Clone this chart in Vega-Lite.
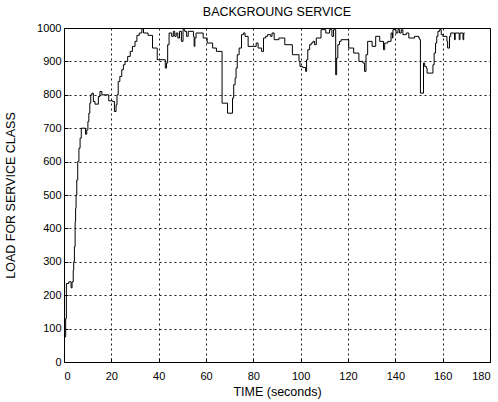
{
  "$schema": "https://vega.github.io/schema/vega-lite/v6.json",
  "width": 426,
  "height": 334,
  "autosize": {"type": "none"},
  "padding": {"left": 64, "top": 28, "right": 8, "bottom": 40},
  "background": "white",
  "title": {"text": "BACKGROUNG SERVICE", "fontSize": 12.5, "fontWeight": "normal", "font": "Liberation Sans", "color": "#000", "offset": 4},
  "config": {
    "view": {"stroke": "#000", "strokeWidth": 1},
    "axis": {
      "labelFont": "Liberation Sans", "labelFontSize": 11, "labelColor": "#000",
      "titleFont": "Liberation Sans", "titleFontSize": 12.5, "titleFontWeight": "normal", "titleColor": "#000",
      "grid": true, "gridColor": "#000", "gridOpacity": 0.9, "gridDash": [2, 3], "gridWidth": 1,
      "domain": false, "tickColor": "#000", "tickSize": -4, "format": "d"
    }
  },
  "data": {"values": [
    {"t": 0.2, "v": 75}, {"t": 0.7, "v": 130}, {"t": 1.0, "v": 235}, {"t": 2.0, "v": 240},
    {"t": 3.0, "v": 222}, {"t": 3.4, "v": 240}, {"t": 3.9, "v": 275}, {"t": 4.1, "v": 300},
    {"t": 4.4, "v": 345}, {"t": 4.7, "v": 420}, {"t": 4.9, "v": 460}, {"t": 5.1, "v": 500},
    {"t": 5.4, "v": 545}, {"t": 5.8, "v": 600}, {"t": 6.3, "v": 640}, {"t": 6.8, "v": 670},
    {"t": 7.3, "v": 700}, {"t": 9.1, "v": 682}, {"t": 9.6, "v": 695}, {"t": 10.1, "v": 720},
    {"t": 10.5, "v": 745}, {"t": 10.9, "v": 775}, {"t": 11.3, "v": 800}, {"t": 11.8, "v": 805},
    {"t": 12.4, "v": 780}, {"t": 13.1, "v": 772}, {"t": 14.5, "v": 795}, {"t": 15.2, "v": 810},
    {"t": 16.0, "v": 800}, {"t": 18.9, "v": 782}, {"t": 20.6, "v": 780}, {"t": 21.3, "v": 750},
    {"t": 22.0, "v": 770}, {"t": 22.4, "v": 800}, {"t": 22.9, "v": 840}, {"t": 23.6, "v": 855},
    {"t": 24.4, "v": 875}, {"t": 25.1, "v": 890}, {"t": 25.8, "v": 900}, {"t": 26.9, "v": 915},
    {"t": 28.0, "v": 930}, {"t": 28.9, "v": 945}, {"t": 30.0, "v": 960}, {"t": 30.8, "v": 978},
    {"t": 31.8, "v": 985}, {"t": 32.9, "v": 998}, {"t": 33.6, "v": 985}, {"t": 35.5, "v": 978},
    {"t": 37.4, "v": 940}, {"t": 39.4, "v": 905}, {"t": 42.8, "v": 880}, {"t": 43.3, "v": 895},
    {"t": 43.8, "v": 950}, {"t": 44.4, "v": 985}, {"t": 45.5, "v": 975}, {"t": 46.2, "v": 990},
    {"t": 46.8, "v": 975}, {"t": 47.4, "v": 985}, {"t": 48.1, "v": 970}, {"t": 48.8, "v": 990},
    {"t": 49.6, "v": 960}, {"t": 50.3, "v": 995}, {"t": 51.0, "v": 990}, {"t": 51.8, "v": 975},
    {"t": 52.5, "v": 990}, {"t": 54.7, "v": 975}, {"t": 55.0, "v": 945}, {"t": 55.3, "v": 970},
    {"t": 55.8, "v": 985}, {"t": 58.8, "v": 970}, {"t": 60.5, "v": 955}, {"t": 62.8, "v": 940},
    {"t": 64.4, "v": 930}, {"t": 66.8, "v": 775}, {"t": 69.1, "v": 745}, {"t": 71.2, "v": 790},
    {"t": 71.7, "v": 830}, {"t": 72.3, "v": 850}, {"t": 72.7, "v": 880}, {"t": 73.2, "v": 920},
    {"t": 74.0, "v": 940}, {"t": 75.0, "v": 980}, {"t": 75.8, "v": 985}, {"t": 76.5, "v": 975},
    {"t": 77.8, "v": 945}, {"t": 81.2, "v": 955}, {"t": 82.0, "v": 940}, {"t": 83.5, "v": 930},
    {"t": 84.3, "v": 970}, {"t": 85.2, "v": 975}, {"t": 86.0, "v": 980}, {"t": 87.3, "v": 975},
    {"t": 87.9, "v": 985}, {"t": 88.8, "v": 965}, {"t": 90.8, "v": 970}, {"t": 93.3, "v": 950},
    {"t": 96.5, "v": 920}, {"t": 99.3, "v": 900}, {"t": 99.7, "v": 885}, {"t": 100.8, "v": 882},
    {"t": 102.1, "v": 870}, {"t": 102.5, "v": 905}, {"t": 103.0, "v": 935}, {"t": 103.8, "v": 950},
    {"t": 104.5, "v": 955}, {"t": 105.2, "v": 960}, {"t": 105.9, "v": 950}, {"t": 106.6, "v": 970},
    {"t": 108.6, "v": 995}, {"t": 110.6, "v": 985}, {"t": 112.2, "v": 995}, {"t": 113.2, "v": 975},
    {"t": 113.9, "v": 995}, {"t": 114.8, "v": 860}, {"t": 115.2, "v": 910}, {"t": 115.7, "v": 950},
    {"t": 116.4, "v": 960}, {"t": 117.1, "v": 965}, {"t": 120.3, "v": 940}, {"t": 122.4, "v": 925},
    {"t": 124.6, "v": 900}, {"t": 126.3, "v": 895}, {"t": 127.0, "v": 870}, {"t": 127.6, "v": 920},
    {"t": 128.3, "v": 960}, {"t": 130.2, "v": 945}, {"t": 131.7, "v": 975}, {"t": 133.4, "v": 960},
    {"t": 135.0, "v": 935}, {"t": 135.5, "v": 955}, {"t": 136.8, "v": 960}, {"t": 138.2, "v": 985},
    {"t": 138.8, "v": 970}, {"t": 139.0, "v": 995}, {"t": 140.3, "v": 985}, {"t": 141.1, "v": 995},
    {"t": 141.8, "v": 985}, {"t": 142.5, "v": 995}, {"t": 143.2, "v": 980}, {"t": 144.6, "v": 985},
    {"t": 145.7, "v": 970}, {"t": 148.1, "v": 975}, {"t": 149.9, "v": 970}, {"t": 150.3, "v": 965},
    {"t": 150.6, "v": 805}, {"t": 151.9, "v": 895}, {"t": 152.4, "v": 885}, {"t": 153.1, "v": 880},
    {"t": 153.4, "v": 865}, {"t": 155.9, "v": 890}, {"t": 156.4, "v": 925}, {"t": 157.0, "v": 955},
    {"t": 157.5, "v": 975}, {"t": 158.0, "v": 990}, {"t": 158.7, "v": 995}, {"t": 159.4, "v": 980},
    {"t": 160.1, "v": 975}, {"t": 161.8, "v": 960}, {"t": 162.1, "v": 940}, {"t": 162.9, "v": 975},
    {"t": 163.4, "v": 985}, {"t": 165.0, "v": 965}, {"t": 165.3, "v": 985}, {"t": 167.0, "v": 965},
    {"t": 167.3, "v": 985}, {"t": 168.6, "v": 965}, {"t": 168.9, "v": 985}, {"t": 169.3, "v": 985}
  ]},
  "mark": {"type": "line", "interpolate": "step-after", "color": "#000", "strokeWidth": 1},
  "encoding": {
    "x": {"field": "t", "type": "quantitative", "scale": {"domain": [0, 180], "nice": false},
      "axis": {"title": "TIME (seconds)", "values": [0, 20, 40, 60, 80, 100, 120, 140, 160, 180], "labelPadding": 12, "titlePadding": 4}},
    "y": {"field": "v", "type": "quantitative", "scale": {"domain": [0, 1000], "nice": false},
      "axis": {"title": "LOAD FOR SERVICE CLASS", "values": [0, 100, 200, 300, 400, 500, 600, 700, 800, 900, 1000], "labelPadding": 7, "titlePadding": 19}}
  }
}
